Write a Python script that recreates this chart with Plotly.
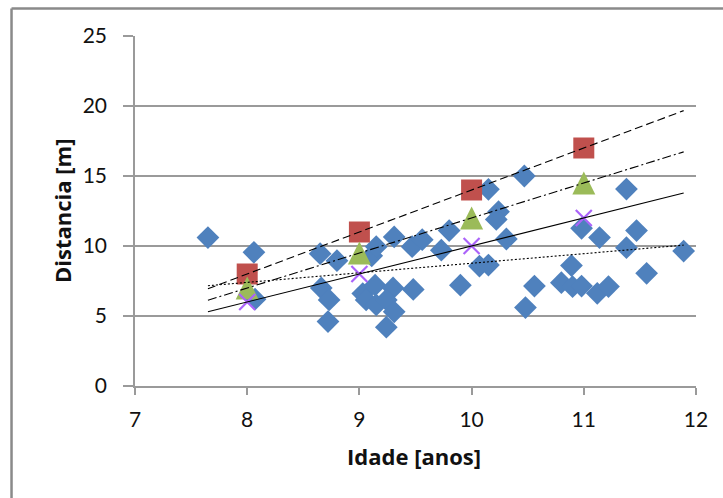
import numpy as np
import plotly.graph_objects as go

# Measured throws: age (years) vs distance (m)
idade = [7.65, 8.06, 8.07, 8.65, 8.80, 8.66, 8.73, 8.72, 9.11, 9.15, 9.31, 9.47,
         9.56, 9.73, 9.80, 9.03, 9.14, 9.06, 9.15, 9.30, 9.24, 9.31, 9.48, 9.24,
         9.90, 10.15, 10.47, 10.24, 10.22, 10.31, 10.07, 10.15, 10.56, 10.48,
         10.98, 11.14, 10.89, 10.80, 10.90, 10.98, 11.12, 11.22, 11.38, 11.47,
         11.38, 11.89, 11.56]
distancia = [10.6, 9.55, 6.2, 9.45, 8.95, 7.0, 6.15, 4.6, 9.3, 9.95, 10.65, 9.95,
             10.45, 9.7, 11.1, 6.6, 7.2, 6.15, 5.8, 7.0, 6.15, 5.3, 6.9, 4.2,
             7.2, 14.05, 15.0, 12.45, 11.9, 10.5, 8.57, 8.64, 7.14, 5.6,
             11.26, 10.6, 8.6, 7.38, 7.09, 7.14, 6.62, 7.1, 14.07, 11.1,
             9.88, 9.64, 8.05]

# Reference levels per age
idade_ref = [8, 9, 10, 11]
ref_alto = [8, 11, 14, 17]
ref_medio = [7, 9.5, 12, 14.5]
ref_baixo = [6, 8, 10, 12]

x_ticks = [7, 8, 9, 10, 11, 12]
y_ticks = [0, 5, 10, 15, 20, 25]

BLUE = "#4F81BD"
RED = "#C0504D"
GREEN = "#9BBB59"
PURPLE = "#8064A2"
GRID = "#9A9A9A"
FONT = "Lato"
TITLE_FONT = "Open Sans"
TRI = 23  # triangle marker size (px)

fig = go.Figure()

fig.add_trace(go.Scatter(x=idade, y=distancia, mode="markers",
                         marker=dict(symbol="diamond", size=17.5, color=BLUE,
                                     line=dict(width=0))))
fig.add_trace(go.Scatter(x=idade_ref, y=ref_alto, mode="markers",
                         marker=dict(symbol="square", size=21, color=RED,
                                     line=dict(width=0))))
# upward triangle centred on the point: flipped arrow marker pushed back by half its height
fig.add_trace(go.Scatter(x=idade_ref, y=ref_medio, mode="markers",
                         marker=dict(symbol="arrow-down", size=TRI, color=GREEN,
                                     angle=180, standoff=TRI / 2,
                                     line=dict(width=0))))
fig.add_trace(go.Scatter(x=idade_ref, y=ref_baixo, mode="markers",
                         marker=dict(symbol="x-thin-open", size=16,
                                     line=dict(width=2.2, color=PURPLE))))

# Linear trend lines over the span of the measured ages
x_span = np.array([min(idade), max(idade)])
trends = [
    (ref_alto, idade_ref, "8px,4px"),
    (ref_medio, idade_ref, "9px,3px,2px,3px"),
    (ref_baixo, idade_ref, "solid"),
    (distancia, idade, "2px,2px"),
]
for ys, xs, dash in trends:
    m, b = np.polyfit(xs, ys, 1)
    fig.add_trace(go.Scatter(x=x_span, y=m * x_span + b, mode="lines",
                             line=dict(color="black", width=1.1, dash=dash)))

axis_common = dict(
    showline=True, linecolor=GRID, linewidth=1.5,
    ticks="outside", tickcolor=GRID, tickwidth=1.5,
    tickfont=dict(family=FONT, size=21, color="#111111"),
    zeroline=False, fixedrange=True,
)

fig.update_xaxes(range=[7, 12], tickvals=x_ticks, ticklen=7, showgrid=False,
                 ticklabelstandoff=7, **axis_common)
fig.update_yaxes(range=[0, 25], tickvals=y_ticks, ticklen=10, showgrid=True,
                 gridcolor=GRID, gridwidth=1.5, ticklabelstandoff=12,
                 **axis_common)

# Outer chart frame
fig.add_shape(type="line", xref="paper", yref="paper",
              x0=-0.2201, x1=-0.2201, y0=1.0786, y1=-0.5,
              line=dict(color="#8A8A8A", width=2.5))
fig.add_shape(type="line", xref="paper", yref="paper",
              x0=-0.2201, x1=1.2, y0=1.0786, y1=1.0786,
              line=dict(color="#8A8A8A", width=2.5))

fig.add_annotation(text="<b>Idade [anos]</b>", xref="paper", yref="paper",
                   x=(414 - 135) / 561, y=(386 - 456) / 350,
                   showarrow=False, xanchor="center", yanchor="middle",
                   font=dict(family=TITLE_FONT, size=22, color="#111111"))
fig.add_annotation(text="<b>Distancia [m]</b>", xref="paper", yref="paper",
                   x=(62 - 135) / 561, y=0.5, textangle=-90,
                   showarrow=False, xanchor="center", yanchor="middle",
                   font=dict(family=TITLE_FONT, size=22, color="#111111"))

fig.update_layout(
    width=723, height=498,
    margin=dict(l=135, r=27, t=36, b=112),
    paper_bgcolor="white", plot_bgcolor="white",
    showlegend=False,
)

fig.write_html("out.html")
